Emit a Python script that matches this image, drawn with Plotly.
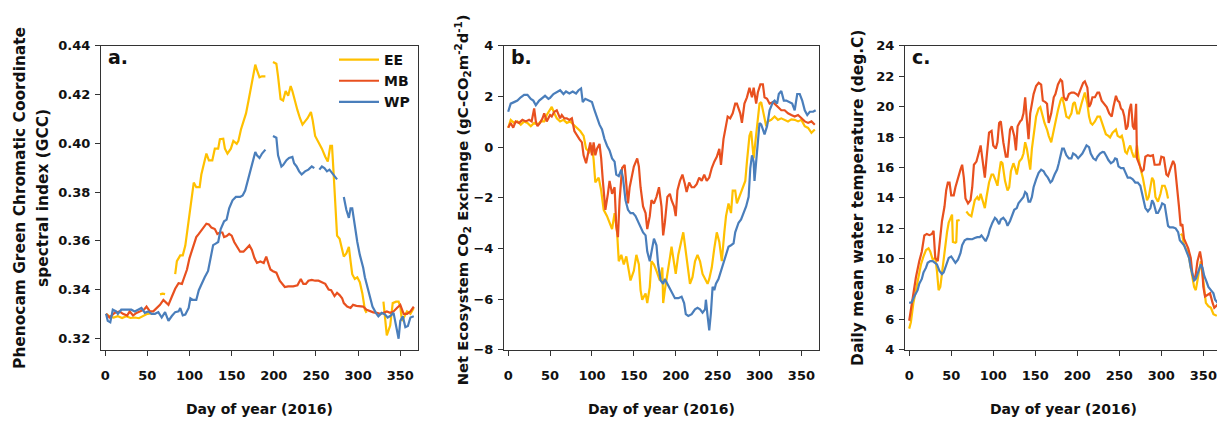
import plotly.graph_objects as go

# ---------------- data ----------------
N = None
# Panel a: Phenocam GCC
a_ee_day = [1, 5, 10, 15, 20, 25, 30, 35, 40, 45, 50, 55, 60,
            65, 68, 71, 76,
            83, 85, 89, 92, 95, 99, 102, 105, 108, 112, 114, 117, 120, 123, 127, 130, 134, 136, 140,
            142, 145, 149, 152, 156, 158, 161, 164, 167, 170, 172, 176, 178, 180, 183, 186, 190, 195,
            199, 203, 205, 208, 211, 214, 217, 220, 222, 225, 228, 231, 234, 237, 240, 244, 246, 249,
            253, 257, 261, 264, 267, 269, 271, 273, 275, 278, 280, 283, 286, 289, 291, 293, 296, 299,
            302, 305, 308, 310, 320,
            330, 334, 338, 341, 345, 348, 350, 352, 355, 358, 362, 366]
a_ee_val = [0.3300, 0.3290, 0.3285, 0.3290, 0.3283, 0.3290, 0.3283, 0.3285, 0.3282, 0.3292, 0.3300, 0.3302, N,
            0.3380, 0.3383, 0.3381, N,
            0.3463, 0.3516, 0.3540, 0.3540, 0.3580, 0.3687, 0.3766, 0.3839, 0.3820, 0.3820, 0.3872, 0.3912,
            0.3958, 0.3930, 0.3930, 0.3978, 0.3978, 0.4017, 0.4019,
            0.3978, 0.3958, 0.3978, 0.4010, 0.3998, 0.4010, 0.4057, 0.4090, 0.4123, 0.4176, 0.4215, 0.4294,
            0.4323, 0.4300, 0.4271, 0.4275, 0.4275, N,
            0.4334, 0.4327, 0.4275, 0.4182, 0.4176, 0.4215, 0.4195, 0.4235, 0.4215, 0.4169, 0.4136, 0.4103,
            0.4077, 0.4090, 0.4103, 0.4129, 0.4096, 0.4030,
            0.4004, 0.3978, 0.3945, 0.3925, 0.3990, 0.3990, 0.3872, 0.3740, 0.3621, 0.3608, 0.3582, 0.3535,
            0.3548, 0.3575, 0.3516, 0.3463, 0.3443, 0.3450,
            0.3430, 0.3384, 0.3317, 0.3304, N,
            0.3350, 0.3212, 0.3252, 0.3344, 0.3350, 0.3350, 0.3330, 0.3271, 0.3290, 0.3310, 0.3300, 0.3324]

a_mb_day = [1, 5, 11, 17, 21, 26, 29, 33, 37, 41, 46, 49, 53, 57, 61, 65, 69, 72, 75, 79, 83, 87, 91, 93,
            97, 100, 104, 108, 111, 114, 117, 120, 123, 126, 130, 133, 136, 139, 141, 144, 147, 150, 153,
            157, 160, 164, 168, 171, 174, 177, 180, 184, 188, 191, 194, 196, 199, 203, 207, 210, 213, 217,
            223, 228, 232, 235, 238, 241, 245, 249, 253, 257, 261, 265, 268, 272, 275, 278, 281, 283, 287,
            291, 294, 298, 302, 306, 310, 314, 318, 322, 326, 330, 334, 338, 342, 346, 350, 354, 358, 362, 366]
a_mb_val = [0.3300, 0.3285, 0.3304, 0.3310, 0.3300, 0.3293, 0.3310, 0.3293, 0.3304, 0.3310, 0.3317, 0.3330,
            0.3310, 0.3310, 0.3323, 0.3337, 0.3357, 0.3347, 0.3337, 0.3370, 0.3403, 0.3426, 0.3423, 0.3443,
            0.3482, 0.3529, 0.3575, 0.3615, 0.3628, 0.3641, 0.3654, 0.3670, 0.3667, 0.3654, 0.3648, 0.3628,
            0.3634, 0.3634, 0.3615, 0.3619, 0.3628, 0.3621, 0.3595,
            0.3575, 0.3555, 0.3555, 0.3568, 0.3581, 0.3562, 0.3529, 0.3509, 0.3515, 0.3509, 0.3535, 0.3502,
            0.3482, 0.3475, 0.3469, 0.3436, 0.3423, 0.3410, 0.3413,
            0.3413, 0.3417, 0.3443, 0.3423, 0.3423, 0.3436, 0.3439, 0.3436, 0.3436, 0.3430, 0.3423, 0.3400,
            0.3397, 0.3373, 0.3386, 0.3377, 0.3364, 0.3344, 0.3330,
            0.3324, 0.3337, 0.3333, 0.3330, 0.3330, 0.3317, 0.3310, 0.3306, 0.3304, 0.3300, 0.3304, 0.3310,
            0.3304, 0.3310, 0.3324, 0.3337, 0.3300, 0.3300, 0.3310, 0.3330]

a_wp_day = [1, 3, 6, 9, 13, 15, 19, 23, 27, 31, 35, 39, 43, 47, 51, 55, 59, 63, 67, 71, 75, 79, 83, 87, 89,
            92, 95, 99, 101, 104, 108, 111, 114, 118, 122, 125, 128, 131, 134, 137, 141, 144, 147, 151, 155,
            160, 163, 166, 169, 172, 175, 178, 180, 183, 186, 190, 195,
            199, 203, 205, 209, 211, 215, 218, 222, 224, 227, 230, 233, 237, 241, 245, 248, 251,
            254, 257, 260, 263, 266, 269, 272, 275, 279,
            283, 286, 289, 291, 293, 296, 299, 302, 306, 308, 312, 314, 317, 321, 324, 328, 332, 335, 338,
            342, 345, 348, 350, 353, 356, 359, 362, 366]
a_wp_val = [0.3300, 0.3271, 0.3265, 0.3317, 0.3310, 0.3300, 0.3317, 0.3317, 0.3320, 0.3317, 0.3310, 0.3317,
            0.3324, 0.3304, 0.3310, 0.3300, 0.3300, 0.3307, 0.3285, 0.3307, 0.3271, 0.3291, 0.3307, 0.3310,
            0.3324,
            0.3294, 0.3297, 0.3324, 0.3364, 0.3357, 0.3357, 0.3397, 0.3423, 0.3450, 0.3476, 0.3529, 0.3582,
            0.3588, 0.3595, 0.3648, 0.3680, 0.3687, 0.3733, 0.3766, 0.3780,
            0.3780, 0.3786, 0.3806, 0.3846, 0.3892, 0.3925, 0.3964, 0.3951, 0.3940, 0.3958, 0.3974, N,
            0.4030, 0.4023, 0.3951, 0.3905, 0.3911, 0.3931, 0.3940, 0.3944, 0.3918, 0.3905, 0.3885, 0.3872,
            0.3885, 0.3892, 0.3905, 0.3898, N,
            0.3892, 0.3905, 0.3898, 0.3885, 0.3892, 0.3878, 0.3865, 0.3852, N,
            0.3780, 0.3727, 0.3694, 0.3733, 0.3733, 0.3661, 0.3595, 0.3542, 0.3489, 0.3450, 0.3397, 0.3364,
            0.3330, 0.3304, 0.3290, 0.3304, 0.3297, 0.3285, 0.3291,
            0.3304, 0.3252, 0.3198, 0.3271, 0.3290, 0.3245, 0.3250, 0.3285, 0.3290]

# Panel b: Net Ecosystem CO2 Exchange
b_ee_day = [0, 3, 7, 11, 15, 19, 23, 27, 31, 35, 39, 43, 46, 50, 52, 55, 58, 62, 66, 70, 74, 78, 82, 86,
            90, 93, 97, 100, 102, 104, 108, 111, 114, 118, 121, 124, 127, 130, 132, 135, 138, 141, 144,
            146, 150, 153, 156, 158, 160, 164, 166, 169, 171, 174, 177, 181, 184, 185, 187, 189, 193, 195,
            198, 200, 203, 206, 209, 211, 214, 217, 220, 223, 226, 229, 232, 235, 238, 240, 243, 246, 249,
            252, 255, 258, 260, 263, 266, 268, 271, 273, 277, 280, 283, 285, 288, 290, 293, 295, 297, 300,
            302, 305, 308, 310, 314, 318, 322, 326, 330, 334, 338, 342, 346, 350, 354, 358, 362, 366]
b_ee_val = [0.77, 1.08, 0.96, 1.02, 0.89, 1.02, 0.96, 0.83, 0.96, 0.89, 1.02, 1.02, 1.27, 1.46, 1.59, 1.34,
            1.14, 1.02, 1.08, 0.96, 1.02, 0.89, 0.76, 0.64,
            0.45, -0.06, -0.19, 0.07, -0.50, -1.39, -1.20, -1.71, -2.47, -2.72, -2.98, -3.23, -2.60, -3.36,
            -4.50, -4.25, -4.63, -4.31, -4.88,
            -5.26, -4.88, -4.25, -4.63, -5.64, -6.02, -5.77, -6.15, -5.52, -4.50, -4.63, -4.88, -5.26,
            -4.75, -6.15, -5.64, -5.26, -4.37, -3.93,
            -4.63, -5.00, -4.25, -3.74, -3.36, -3.87, -4.63, -5.39, -5.13, -4.50, -4.25, -4.50, -5.00,
            -5.20, -5.39, -5.20, -4.75, -3.99, -3.36,
            -3.74, -4.50, -3.36, -2.72, -2.22, -2.60, -1.71, -1.71, -2.22, -1.84, -1.58, -1.33, -0.57,
            0.45, 0.64, -0.44, 0.19, 0.83, 1.72,
            1.78, 1.34, 0.83, 1.02, 1.08, 1.21, 1.08, 1.14, 1.08, 1.02, 1.10, 1.08, 1.02, 1.08, 0.83, 0.76,
            0.57, 0.70]

b_mb_day = [0, 3, 6, 9, 13, 17, 21, 25, 28, 31, 33, 35, 38, 41, 43, 46, 50, 52, 55, 58, 62, 64, 67, 70, 73,
            76, 79, 82, 85, 88, 90, 93, 96, 98, 100, 102, 104, 106, 109, 111, 113, 116, 119, 121, 124,
            127, 129, 131, 133, 136, 139, 141, 143, 145, 148, 150, 154, 156, 158, 161, 164, 166, 169,
            171, 174, 177, 180, 183, 185, 187, 190, 193, 195, 198, 200, 202, 205, 208, 211, 213, 216,
            219, 222, 225, 228, 231, 234, 237, 240, 243, 246, 249, 252, 254, 257, 260, 262, 265, 268,
            271, 273, 277, 279, 282, 285, 288, 291, 293, 296, 298, 301, 304, 306, 309, 312, 316, 318,
            322, 326, 330, 334, 338, 342, 346, 350, 354, 358, 362, 366]
b_mb_val = [0.77, 0.96, 0.77, 1.02, 0.96, 1.08, 1.02, 1.08, 1.02, 1.53, 1.02, 0.83, 0.96, 1.14, 1.34, 1.02,
            1.27, 1.21, 1.40, 1.46, 1.14, 1.27, 1.14, 1.14, 1.08,
            1.14, 0.64, 0.45, 0.32, 0.19, -0.32, -0.63, -0.06, 0.19, -0.32, 0.19, -0.32, -0.06, 0.13,
            -0.44, -1.33, -2.47, -1.84, -1.33, -1.84,
            -1.58, -3.10, -3.55, -2.08, -0.82, -0.70, -1.33, -2.22, -1.58, -1.08, -0.76, -0.44, -0.76,
            -1.58, -2.34, -2.60, -3.23, -2.72,
            -2.09, -2.22, -1.96, -1.58, -2.34, -3.48, -2.98, -1.96, -1.84, -2.09, -2.34, -2.72, -1.71,
            -1.33, -1.08, -1.46, -1.77, -1.39,
            -1.58, -1.58, -1.46, -1.20, -1.33, -1.08, -1.33, -1.20, -0.82, -0.57, -0.38, -0.06, -0.70,
            0.32, 0.83, 1.21, 1.14, 1.34,
            1.72, 1.72, 1.34, 0.96, 1.72, 1.97, 2.35, 1.97, 2.35, 1.72, 2.16, 2.48, 2.48, 1.97, 1.91,
            1.72, 1.78, 1.72,
            1.59, 1.46, 1.46, 1.34, 1.27, 1.21, 1.27, 1.14, 1.02, 0.96, 1.02, 0.89]

b_wp_day = [0, 3, 7, 11, 15, 19, 23, 27, 30, 33, 37, 41, 44, 48, 50, 54, 58, 62, 66, 69, 73, 77, 81, 84,
            87, 89, 92, 96, 100, 103, 106, 109, 112, 115, 118, 121, 124, 127, 129, 132, 135, 137, 140,
            143, 146, 149, 152, 154, 158, 161, 164, 166, 169, 171, 174, 177, 179, 182, 185, 187, 190,
            193, 196, 199, 203, 207, 210, 212, 215, 219, 223, 226, 229, 232, 235, 236, 238, 240, 242,
            244, 246, 248, 251, 254, 257, 260, 263, 266, 269, 271, 275, 278, 281, 284, 287, 289, 291,
            293, 294, 296, 298, 300, 302, 304, 306, 309, 312, 316, 318, 321, 323, 326, 329, 332, 336,
            339, 342, 345, 348, 351, 354, 357, 360, 364, 367]
b_wp_val = [1.40, 1.72, 1.78, 1.84, 1.97, 2.07, 2.07, 1.91, 1.84, 1.66, 1.84, 1.97, 2.03, 1.91, 1.95, 2.10,
            2.16, 2.25, 2.10, 2.20, 2.12, 2.20, 2.12, 2.25,
            2.32, 1.78, 1.91, 1.84, 1.78, 1.46, 1.14, 0.89, 0.70, 0.32, 0.06, -0.13, -0.44, -0.57, -1.08,
            -1.14, -0.89, -1.20, -2.09,
            -2.47, -2.60, -2.60, -2.72, -2.85, -3.10, -3.36, -3.48, -4.12, -4.50, -4.12, -3.61, -3.87,
            -4.63, -5.26, -5.39, -5.20, -5.39,
            -5.64, -5.83, -5.96, -5.96, -5.90, -6.15, -6.59, -6.66, -6.59, -6.40, -6.34, -6.40, -6.53,
            -6.40, -6.02, -6.66, -7.23, -6.53,
            -5.51, -5.64, -5.39, -5.20, -4.88, -4.50, -4.25, -3.93, -3.87, -3.80, -3.36, -2.98, -2.85,
            -2.60, -2.34, -1.96, -0.82, -0.32,
            -0.57, -1.33, -0.44, 0.45, 0.95, 0.90, 0.70, 0.51, 0.83, 1.46, 1.78, 1.84, 1.72, 2.10, 2.22,
            1.84, 1.84, 1.78,
            1.72, 1.46, 2.10, 2.10, 1.84, 1.46, 1.27, 1.40, 1.40, 1.46]

# Panel c: daily mean water temperature
c_ee_day = [0, 2, 5, 8, 11, 14, 17, 20, 23, 25, 28, 31, 33, 35, 37, 40, 43, 45, 47, 50, 51,
            52, 55, 56, 57, 60, 63,
            68, 71, 74, 76, 78, 81, 83, 85, 87, 90, 92, 95, 98, 100, 103, 105, 107, 109, 111, 114, 117,
            119, 121, 124, 126, 128, 131, 134, 136, 138, 140, 142, 144, 146, 148, 151, 154, 156, 159,
            161, 164, 166, 169, 172, 174, 177, 180, 182, 184, 187, 190, 193, 195, 197, 200, 202, 205,
            207, 209, 212, 214, 216, 218, 221, 224, 227, 229, 232, 234, 237, 239, 242, 244, 246, 248,
            251, 253, 255, 257, 259, 261, 263, 265, 267, 269, 271, 273, 275, 278, 281, 283, 285, 287,
            289, 291, 293, 296, 299, 301, 304, 306, 308, 315,
            323, 325, 327, 331, 333, 336, 339, 341, 343, 345, 347, 349, 351, 353, 356, 359, 362, 366]
c_ee_val = [5.40, 5.82, 7.09, 7.93, 8.78, 9.62, 10.15, 10.57, 10.68, 10.47, 9.94, 10.05, 9.20, 7.93, 8.14,
            9.62, 10.68, 11.74, 12.37, 12.79, 12.90,
            11.10, 11.05, 11.10, 12.50, 12.55, N,
            13.10, 12.90, 12.79, 13.43, 13.85, 14.06, 13.85, 14.27, 13.85, 13.33, 14.06, 15.01, 15.54,
            15.54, 15.12, 14.80, 15.65, 16.39, 16.28, 15.12, 14.49,
            14.70, 15.75, 16.28, 15.96, 15.54, 16.39, 16.60, 16.92, 17.66, 17.24, 16.39, 15.86, 17.24,
            18.08, 19.35, 19.88, 19.98, 19.35,
            18.93, 18.50, 18.08, 17.66, 18.50, 19.14, 19.77, 20.40, 20.62, 20.19, 19.35, 19.24, 19.56,
            20.19, 20.30, 19.56, 19.56, 20.19,
            20.51, 20.93, 20.19, 19.35, 18.93, 18.82, 19.03, 19.35, 19.35, 19.03, 18.50, 18.19, 18.08,
            17.98, 18.29, 18.40, 18.50, 18.08,
            17.98, 18.08, 17.66, 17.03, 16.92, 17.24, 17.45, 17.03, 16.71, 16.71, 17.45, 16.60, 15.96,
            15.33, 14.27, 13.85, 14.06, 14.70,
            15.33, 15.12, 14.06, 13.75, 14.27, 14.80, 14.80, 14.49, 13.96, N,
            11.63, 11.53, 10.89, 10.47, 10.05, 8.99, 8.14, 7.93, 8.57, 9.41, 9.84, 8.99, 7.93, 7.09, 6.88,
            6.77, 6.35, 6.24]

c_mb_day = [0, 4, 8, 12, 15, 18, 21, 24, 27, 29, 31, 34, 37, 39, 42, 44, 46, 48, 50, 53, 55, 58, 61, 63,
            65, 67, 70, 73, 75, 77, 80, 82, 85, 87, 90, 92, 95, 98, 100, 103, 105, 107, 109, 112, 115,
            117, 120, 122, 125, 127, 129, 132, 134, 136, 138, 140, 142, 144, 146, 148, 151, 154, 157,
            159, 162, 164, 166, 169, 172, 174, 177, 180, 182, 184, 187, 190, 193, 196, 199, 201, 204,
            207, 209, 212, 214, 216, 218, 221, 224, 226, 229, 232, 235, 238, 241, 243, 246, 248, 250,
            252, 254, 256, 258, 260, 262, 264, 266, 268, 270, 271, 274, 277, 279, 281, 284, 287, 290,
            292, 295, 298, 300, 303, 306, 308, 311, 314, 316, 319, 321, 323, 325, 327, 330, 332, 335,
            337, 339, 341, 343, 346, 348, 350, 352, 355, 358, 361, 363, 367]
c_mb_val = [5.92, 7.51, 8.78, 9.84, 10.47, 11.53, 11.63, 11.55, 11.63, 11.84, 10.05, 9.84, 11.31, 12.48,
            13.43, 14.49, 15.01, 15.01, 14.17, 14.17, 14.70, 15.33, 15.86, 16.18,
            15.33, 13.96, 13.64, 13.85, 14.70, 16.18, 16.39, 16.81, 17.45, 16.60, 15.33, 16.60, 18.29,
            18.40, 17.45, 17.24, 17.66, 18.93, 19.03, 17.66, 16.71,
            16.71, 18.50, 18.71, 18.08, 17.13, 18.71, 19.03, 19.14, 19.56, 20.62, 19.14, 17.87, 19.56,
            20.19, 20.83, 21.36, 21.57, 21.45,
            20.40, 20.30, 20.19, 18.93, 19.56, 20.62, 20.83, 21.46, 21.78, 21.67, 20.62, 20.40, 20.83,
            20.93, 20.93, 20.83, 20.72, 21.15,
            21.57, 21.67, 21.25, 19.98, 20.19, 20.62, 20.62, 20.93, 20.93, 20.40, 20.19, 19.98, 19.56,
            19.35, 19.98, 20.72, 20.40, 20.30,
            19.88, 19.77, 19.35, 18.50, 18.71, 19.77, 20.19, 18.71, 18.50, 20.19, 16.60, 16.18, 15.75,
            15.86, 16.71, 16.81, 16.75, 16.81,
            16.18, 16.18, 16.20, 16.71, 16.65, 15.54, 15.44, 15.96, 16.43, 16.18, 14.70, 13.43, 12.16,
            12.27, 11.31, 10.89, 10.68, 10.05,
            8.99, 8.57, 8.99, 9.84, 10.47, 9.84, 8.14, 7.51, 7.62, 7.72, 7.09, 6.77, 6.98]

c_wp_day = [0, 3, 6, 10, 12, 15, 17, 20, 22, 25, 28, 31, 33, 36, 39, 41, 44, 47, 50, 53, 55, 58, 61, 63,
            66, 69, 72, 75, 78, 81, 84, 86, 89, 91, 94, 96, 99, 102, 104, 107, 109, 112, 115, 117, 120,
            123, 125, 128, 130, 133, 136, 138, 140, 142, 144, 146, 148, 151, 154, 157, 160, 162, 165,
            168, 170, 173, 176, 178, 180, 182, 184, 187, 190, 193, 195, 198, 201, 203, 206, 209, 211,
            214, 216, 219, 222, 224, 227, 230, 232, 235, 237, 240, 243, 245, 247, 249, 252, 255, 257,
            260, 263, 266, 269, 272, 275, 277, 279, 281, 284, 287, 289, 291, 294, 296, 299, 301, 304,
            306, 308, 310, 314, 317, 320, 322, 325, 327, 330, 333, 335, 337, 339, 341, 343, 345, 347,
            349, 351, 354, 356, 359, 362, 364, 367]
c_wp_val = [7.09, 7.13, 7.51, 7.93, 8.36, 8.67, 9.10, 9.41, 9.73, 9.84, 9.84, 9.73, 9.62, 9.20, 8.99, 9.10,
            9.62, 10.05, 10.15, 9.84, 9.73, 9.94, 10.36, 10.89,
            11.21, 11.31, 11.31, 11.28, 11.36, 11.42, 11.42, 11.53, 11.31, 11.15, 11.53, 11.95, 12.37,
            12.69, 12.58, 12.27, 12.58, 12.69, 12.48, 12.16, 12.48,
            13.01, 13.22, 13.33, 13.64, 13.85, 14.06, 14.38, 14.27, 13.75, 13.75, 14.06, 14.70, 15.22,
            15.65, 15.86, 15.75, 15.54, 15.33,
            15.01, 15.12, 15.54, 15.86, 16.28, 16.81, 17.24, 17.24, 16.81, 16.60, 16.60, 16.92, 16.81,
            16.60, 16.71, 16.92, 17.24, 17.45,
            17.34, 16.92, 16.60, 16.49, 16.71, 16.92, 17.03, 17.00, 16.71, 16.49, 16.28, 16.39, 16.60,
            16.55, 16.07, 15.96, 15.96, 15.65,
            15.33, 15.33, 15.22, 15.01, 15.01, 14.80, 14.27, 13.85, 13.33, 13.11, 13.33, 13.85, 13.64,
            13.01, 13.01, 13.33, 13.64, 13.54,
            12.79, 12.16, 12.06, 12.06, 12.00, 11.74, 11.21, 11.00, 10.89, 10.47, 10.05, 9.41, 8.99, 8.57,
            8.67, 8.99, 9.31, 9.62,
            9.41, 8.88, 8.46, 8.14, 7.93, 7.72, 7.30, 7.09]

site_names = ["EE", "MB", "WP"]
site_colors = ["#FFC000", "#E8501F", "#4A7EBB"]

x_ticks = [0, 50, 100, 150, 200, 250, 300, 350]
a_yticks = [0.32, 0.34, 0.36, 0.38, 0.40, 0.42, 0.44]
b_yticks = [-8, -6, -4, -2, 0, 2, 4]
c_yticks = [4, 6, 8, 10, 12, 14, 16, 18, 20, 22, 24]

x_title = "Day of year (2016)"
a_ytitle = ["Phenocam Green Chromatic Coordinate", "spectral index (GCC)"]
b_ytitle = "Net Ecosystem CO<sub>2</sub> Exchange (gC-CO<sub>2</sub>m<sup>-2</sup>d<sup>-1</sup>)"
c_ytitle = "Daily mean water temperature (deg.C)"
panel_labels = ["a.", "b.", "c."]

# ---------------- figure ----------------
W, H = 1225, 430
OFF = 8          # page body margin of the browser
FONT = "DejaVu Sans"
TXT = "#111111"

fig = go.Figure()

panels = [
    ("x", "y", [(a_ee_day, a_ee_val), (a_mb_day, a_mb_val), (a_wp_day, a_wp_val)], True),
    ("x2", "y2", [(b_ee_day, b_ee_val), (b_mb_day, b_mb_val), (b_wp_day, b_wp_val)], False),
    ("x3", "y3", [(c_ee_day, c_ee_val), (c_mb_day, c_mb_val), (c_wp_day, c_wp_val)], False),
]
for xa, ya, series, show in panels:
    for (d, v), name, col in zip(series, site_names, site_colors):
        fig.add_trace(go.Scatter(x=d, y=v, mode="lines", name=name, xaxis=xa, yaxis=ya,
                                 line=dict(color=col, width=2.2), connectgaps=False,
                                 showlegend=show, hoverinfo="x+y+name"))

def px2x(px):
    return (px - OFF) / W

def px2y(py):
    return 1 - (py - OFF) / H

ydom = [px2y(355), px2y(40)]
xdoms = [[px2x(101), px2x(418)], [px2x(504), px2x(819)], [px2x(905), px2x(1221)]]

axis_common = dict(showline=True, linecolor="#333333", linewidth=1, mirror=True,
                   ticks="outside", ticklen=5, tickcolor="#333333", tickwidth=1,
                   showgrid=False, zeroline=False,
                   tickfont=dict(family=FONT, size=13, color=TXT, weight="bold"))

yranges = [[0.3152, 0.44], [-8, 4], [4, 24]]
yticks = [a_yticks, b_yticks, c_yticks]
yfmt = [".2f", "d", "d"]
layout_axes = {}
for i in range(3):
    sx = "xaxis" if i == 0 else f"xaxis{i+1}"
    sy = "yaxis" if i == 0 else f"yaxis{i+1}"
    layout_axes[sx] = dict(domain=xdoms[i], range=[-5, 371], tickvals=x_ticks, ticklabelstandoff=9,
                           anchor="y" if i == 0 else f"y{i+1}", **axis_common)
    layout_axes[sy] = dict(domain=ydom, range=yranges[i], tickvals=yticks[i], tickformat=yfmt[i],
                           ticklabelstandoff=2,
                           anchor="x" if i == 0 else f"x{i+1}", **axis_common)

fig.update_layout(width=W, height=H, margin=dict(l=0, r=0, t=0, b=0),
                  paper_bgcolor="white", plot_bgcolor="white",
                  font=dict(family=FONT, color=TXT),
                  legend=dict(x=px2x(334), y=px2y(38), xanchor="left", yanchor="top",
                              bgcolor="rgba(0,0,0,0)", borderwidth=0, tracegroupgap=0,
                              itemwidth=40,
                              font=dict(family=FONT, size=14, color=TXT, weight="bold")),
                  **layout_axes)

ann = []
# panel letters
for i, lab in enumerate(panel_labels):
    xr = "x domain" if i == 0 else f"x{i+1} domain"
    yr = "y domain" if i == 0 else f"y{i+1} domain"
    ann.append(dict(text=lab, xref=xr, yref=yr, x=0.015, y=1.005, xanchor="left", yanchor="top",
                    showarrow=False, font=dict(family=FONT, size=19, color=TXT, weight="bold")))
# x titles
for i in range(3):
    xr = "x domain" if i == 0 else f"x{i+1} domain"
    ann.append(dict(text=x_title, xref=xr, yref="paper", x=0.5, y=px2y(416), xanchor="center",
                    yanchor="middle", showarrow=False,
                    font=dict(family=FONT, size=14, color=TXT, weight="bold")))
# y titles
ytitle_specs = [(a_ytitle[0], 20, 197.5, 15.4), (a_ytitle[1], 43, 197.5, 15.4),
                (b_ytitle, 462, 200, 14.8), (c_ytitle, 858, 197.5, 15.4)]
for t, xp, yp, fs in ytitle_specs:
    ann.append(dict(text=t, xref="paper", yref="paper", x=px2x(xp), y=px2y(yp), textangle=-90,
                    xanchor="center", yanchor="middle", showarrow=False,
                    font=dict(family=FONT, size=fs, color=TXT, weight="bold")))
fig.update_layout(annotations=ann)

fig.write_html("out.html")
